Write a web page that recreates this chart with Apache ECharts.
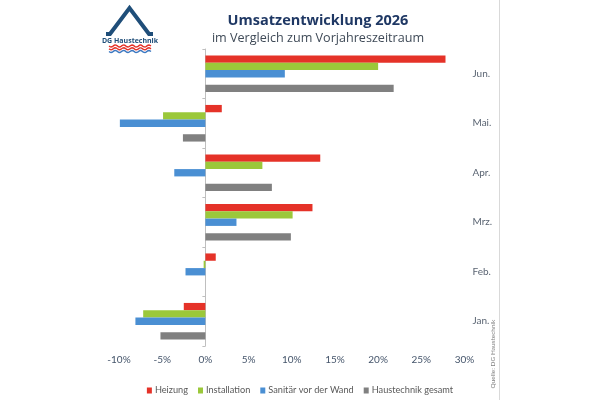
<!DOCTYPE html>
<html>
<head>
<meta charset="utf-8">
<script src="https://cdn.jsdelivr.net/npm/echarts@6/dist/echarts.min.js"></script>
<style>
  html, body { margin: 0; padding: 0; background: #fff; }
  #chart { width: 600px; height: 400px; }
</style>
</head>
<body>
<div id="chart"></div>
<script>
// Monate (unten -> oben)
var categories = ['Jan.', 'Feb.', 'Mrz.', 'Apr.', 'Mai.', 'Jun.'];
// Veraenderung ggü. Vorjahr in %
var heizung      = [-2.5, 1.2, 12.4, 13.3, 1.9, 27.8];
var installation = [-7.2, -0.2, 10.1, 6.6, -4.9, 20.0];
var sanitaer     = [-8.1, -2.3, 3.6, -3.6, -9.9, 9.2];
var gesamt       = [-5.2, 0, 9.9, 7.7, -2.6, 21.8];
var leer         = ['-', '-', '-', '-', '-', '-'];
var xTicks = { min: -10, max: 30, step: 5 };

var myChart = echarts.init(document.getElementById('chart'));

// Wellen fuer das Logo
function welle(y0, amp) {
    var pts = [];
    for (var x = 109; x <= 151; x += 1) {
        pts.push([x, y0 + amp * Math.sin((x - 109) / 42 * Math.PI * 2 * 5)]);
    }
    return pts;
}

function serie(name, data, color) {
    return {
        name: name,
        type: 'bar',
        data: data,
        barGap: '0%',
        barCategoryGap: '26%',
        itemStyle: { color: color },
        silent: true
    };
}

var option = {
    animation: false,
    textStyle: { fontFamily: 'Lato' },
    title: {
        text: 'Umsatzentwicklung 2026',
        subtext: 'im Vergleich zum Vorjahreszeitraum',
        left: 313,
        top: 8,
        textAlign: 'center',
        itemGap: 4,
        textStyle: { fontFamily: 'Open Sans', fontSize: 14.5, fontWeight: 'bold', color: '#1F3864' },
        subtextStyle: { fontFamily: 'Open Sans', fontSize: 12.6, color: '#3F4A57' }
    },
    legend: {
        data: ['Heizung', 'Installation', 'Sanitär vor der Wand', 'Haustechnik gesamt'],
        left: 'center',
        top: 381,
        icon: 'rect',
        itemWidth: 5,
        itemHeight: 6,
        itemGap: 10,
        textStyle: { fontFamily: 'Lato', fontSize: 9.2, color: '#595959', padding: [0, 0, 0, -2] }
    },
    grid: {
        top: 49,
        bottom: 54,
        left: 119,
        right: 135.5
    },
    xAxis: {
        type: 'value',
        min: xTicks.min,
        max: xTicks.max,
        interval: xTicks.step,
        axisLine: { show: false },
        axisTick: { show: false },
        splitLine: { show: false },
        axisLabel: { formatter: '{value}%', fontSize: 10, color: '#44546A', margin: 9 }
    },
    yAxis: [
        {
            type: 'category',
            data: categories,
            position: 'left',
            axisLine: { show: true, onZero: true, lineStyle: { color: '#BFBFBF' } },
            axisTick: { show: true, length: 3, lineStyle: { color: '#BFBFBF' } },
            axisLabel: { show: false }
        },
        {
            type: 'category',
            data: categories,
            position: 'right',
            axisLine: { show: false, onZero: false },
            axisTick: { show: false },
            axisLabel: { fontSize: 10, color: '#5A6472', margin: 8 }
        }
    ],
    series: [
        serie('Heizung', heizung, '#E53228'),
        serie('Installation', installation, '#9BC83A'),
        serie('Sanitär vor der Wand', sanitaer, '#4A8FD3'),
        serie('leer', leer, '#ffffff'),
        serie('Haustechnik gesamt', gesamt, '#808080')
    ],
    graphic: [
        {
            type: 'line',
            shape: { x1: 499.5, y1: 0, x2: 499.5, y2: 400 },
            style: { stroke: '#D9D9D9', lineWidth: 1 }
        },
        {
            type: 'polyline',
            shape: { points: [[106, 34], [110, 34], [129.5, 8], [149, 34], [153, 34]] },
            style: { stroke: '#1F4E79', lineWidth: 4, fill: null, lineJoin: 'miter' }
        },
        {
            type: 'text',
            x: 130, y: 40.5,
            style: { text: 'DG Haustechnik', font: 'bold 7px "Open Sans"', fill: '#1F4E79', align: 'center', verticalAlign: 'middle' }
        },
        { type: 'polyline', shape: { points: welle(46, 1) }, style: { stroke: '#E53228', lineWidth: 1.4, fill: null } },
        { type: 'polyline', shape: { points: welle(48.8, 1) }, style: { stroke: '#E53228', lineWidth: 1.4, fill: null } },
        { type: 'polyline', shape: { points: welle(51.5, 1) }, style: { stroke: '#3C78C0', lineWidth: 1.4, fill: null } },
        {
            type: 'text',
            x: 492.5, y: 354,
            rotation: Math.PI / 2,
            style: { text: 'Quelle: DG Haustechnik', font: '6.5px Lato', fill: '#7F7F7F', align: 'center', verticalAlign: 'middle' }
        }
    ]
};

myChart.setOption(option, true);
</script>
</body>
</html>
